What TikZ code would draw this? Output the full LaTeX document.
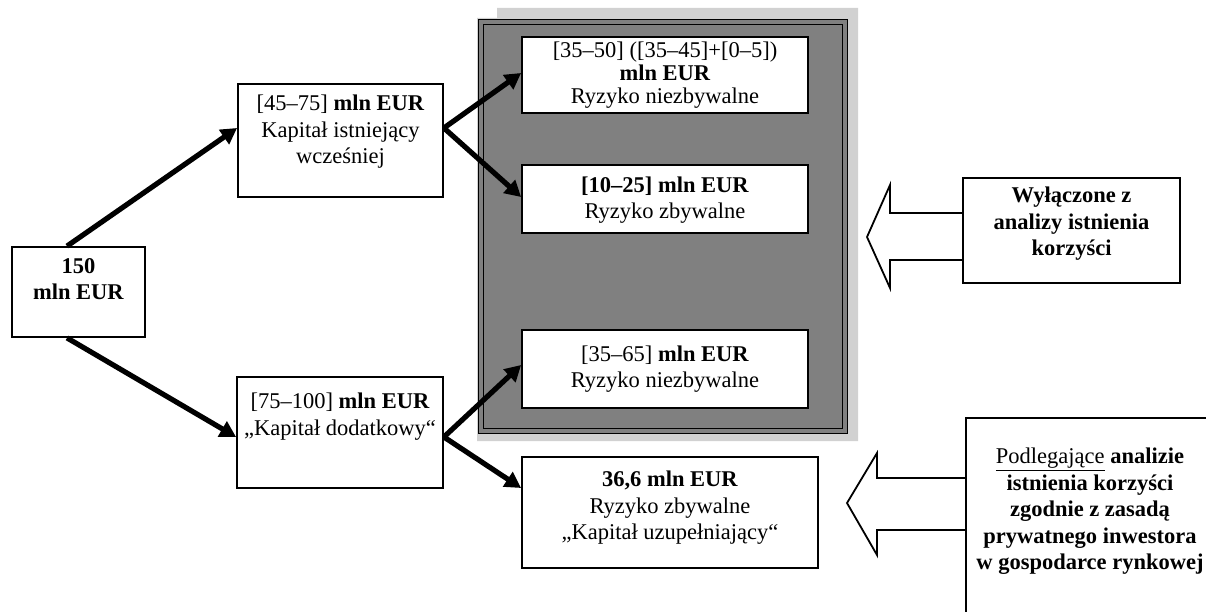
\documentclass[tikz,border=0pt]{standalone}
\usepackage{fontspec}
\setmainfont{Liberation Serif}
\usetikzlibrary{arrows.meta}
\definecolor{panelgray}{gray}{0.50}
\definecolor{shadowgray}{gray}{0.82}
\newcommand{\diagfont}{\fontsize{22.5}{26.5}\selectfont}
\newcommand{\tightfont}{\fontsize{22.5}{23}\selectfont}
\begin{document}
\begin{tikzpicture}[x=1pt,y=-1pt,
  box/.style={draw, line width=1.8pt, fill=white, inner sep=0pt},
  txt/.style={align=center, inner sep=0pt, font=\diagfont},
  conn/.style={line width=5.2pt, -{Triangle[length=16pt,width=17pt]}},
  blockarrow/.style={draw, line width=1.8pt, fill=white, line join=miter},
  panel/.style={draw=black, line width=1.6pt, double=panelgray, double distance=3.2pt, fill=panelgray, inner sep=0pt}
]
\useasboundingbox (0,0) rectangle (1206,612);
\clip (0,0) rectangle (1206,612);

% shadow of the panel
\fill[shadowgray] (497,8) -- (858,8) -- (858,441) -- (477,441) -- (477,18) -- (497,18) -- cycle;
% dark panel
\node[panel, minimum width=364pt, minimum height=409pt] (panel) at (663,226.5) {};

% boxes inside the panel
\node[box, minimum width=286pt, minimum height=76pt] (bA) at (665,75) {};
\node[txt, font=\tightfont, anchor=north] (tA) at (665,42) {[35–50] ([35–45]+[0–5])\\\textbf{mln EUR}\\Ryzyko niezbywalne};
\node[box, minimum width=286pt, minimum height=68pt] (bB) at (665,199) {};
\node[txt] (tB) at (665,200) {\textbf{[10–25] mln EUR}\\Ryzyko zbywalne};
\node[box, minimum width=286pt, minimum height=78pt] (bC) at (665,369) {};
\node[txt] (tC) at (665,369) {[35–65] \textbf{mln EUR}\\Ryzyko niezbywalne};
\node[box, minimum width=296pt, minimum height=111pt] (bD) at (670,512.5) {};
\node[txt] (tD) at (670,508) {\textbf{36,6 mln EUR}\\Ryzyko zbywalne\\„Kapitał uzupełniający“};

% left boxes
\node[box, minimum width=133pt, minimum height=90pt] (b150) at (78.5,292) {};
\node[txt, anchor=north] (t150) at (78.5,258) {\textbf{150}\\\textbf{mln EUR}};
\node[box, minimum width=205pt, minimum height=113pt] (b4575) at (340.5,140.5) {};
\node[txt, anchor=north] (t4575) at (340.5,95) {[45–75] \textbf{mln EUR}\\Kapitał istniejący\\wcześniej};
\node[box, minimum width=206pt, minimum height=111pt] (b75100) at (340,432.5) {};
\node[txt, anchor=north] (t75100) at (340,393) {[75–100] \textbf{mln EUR}\\„Kapitał dodatkowy“};

% connectors
\draw[conn] ([xshift=-11.5pt]b150.north) -- ([yshift=12.5pt]b4575.west);
\draw[conn] ([xshift=-11.5pt]b150.south) -- ([yshift=-4.5pt]b75100.west);
\draw[conn] ([yshift=12.5pt]b4575.east) -- ([yshift=2pt]bA.west);
\draw[conn] ([yshift=12.5pt]b4575.east) -- ([yshift=2pt]bB.west);
\draw[conn] ([yshift=-4.5pt]b75100.east) -- ([yshift=4pt]bC.west);
\draw[conn] ([yshift=-4.5pt]b75100.east) -- ([yshift=24.5pt]bD.west);

% block arrows
\draw[blockarrow] (963,213) -- (890,213) -- (890,185) -- (867,237) -- (890,288) -- (890,260) -- (963,260);
\draw[blockarrow] (966,478) -- (877,478) -- (877,453) -- (847,503) -- (877,555) -- (877,530) -- (966,530);

% right boxes
\node[box, minimum width=217pt, minimum height=105pt] (r1) at (1071.5,230.5) {};
\node[txt] (tr1) at (1071.5,224) {\textbf{Wyłączone z}\\\textbf{analizy istnienia}\\\textbf{korzyści}};
\node[box, minimum width=250pt, minimum height=207pt] (r2) at (1091,521.5) {};
\node[txt, anchor=north] (tr2) at (1090,448) {\underline{Podlegające} \textbf{analizie}\\\textbf{istnienia korzyści}\\\textbf{zgodnie z zasadą}\\\textbf{prywatnego inwestora}\\\textbf{w gospodarce rynkowej}};
\end{tikzpicture}
\end{document}
